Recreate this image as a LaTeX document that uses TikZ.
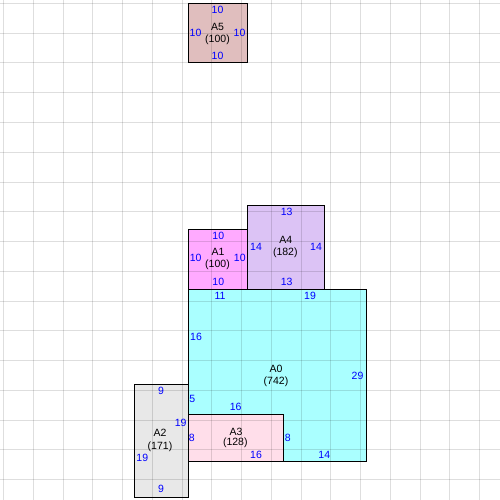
\documentclass[tikz,border=0pt]{standalone}
\usepackage{fontspec}
\setmainfont{Liberation Sans}
\begin{document}
\begin{tikzpicture}[x=1pt,y=-1pt,
  room/.style={draw=black,line width=1pt},
  gridline/.style={black,opacity=0.13,line width=1pt},
  len/.style={text=blue,inner sep=0pt,font=\fontsize{10.5}{12}\selectfont},
  nm/.style={text=black,inner sep=0pt,font=\fontsize{10.5}{12}\selectfont,align=center}]
\useasboundingbox (0,0) rectangle (500,500);
\fill[white] (0,0) rectangle (500,500);
% fills
\fill[fill={rgb,255:red,224;green,190;blue,190}] (188.3,3.3) rectangle (247.5,62.7);
\fill[fill={rgb,255:red,255;green,170;blue,255}] (188.3,229) rectangle (247.7,289.3);
\fill[fill={rgb,255:red,220;green,195;blue,245}] (247.7,205.3) rectangle (324.3,289.3);
\fill[fill={rgb,255:red,170;green,255;blue,255}] (188.3,289.3) -- (366.3,289.3) -- (366.3,461) -- (283.3,461) -- (283.3,414.3) -- (188.3,414.3) -- cycle;
\fill[fill={rgb,255:red,232;green,232;blue,232}] (134.3,384.3) rectangle (188.3,497);
\fill[fill={rgb,255:red,255;green,222;blue,234}] (188.3,414.3) rectangle (283.3,461);
% grid
\foreach \k in {0,...,16}{
  \draw[gridline] ({3.5+29.75*\k},0) -- ({3.5+29.75*\k},500);
  \draw[gridline] (0,{3.5+29.75*\k}) -- (500,{3.5+29.75*\k});
}
% borders
\draw[room] (188.3,3.3) rectangle (247.5,62.7);
\draw[room] (188.3,229) rectangle (247.7,289.3);
\draw[room] (247.7,205.3) rectangle (324.3,289.3);
\draw[room] (188.3,289.3) -- (366.3,289.3) -- (366.3,461) -- (283.3,461) -- (283.3,414.3) -- (188.3,414.3) -- cycle;
\draw[room] (134.3,384.3) rectangle (188.3,497);
\draw[room] (188.3,414.3) rectangle (283.3,461);
% A5
\node[nm] (a5n) at (217.5,27) {A5};
\node[nm] (a5a) at (217.5,39.5) {(100)};
\node[len] (a5t) at (217.5,10) {10};
\node[len] (a5l) at (195.5,33) {10};
\node[len] (a5r) at (239.5,33) {10};
\node[len] (a5b) at (217.5,56) {10};
% A1
\node[nm] (a1n) at (218,252.3) {A1};
\node[nm] (a1a) at (217.5,264.8) {(100)};
\node[len] (a1t) at (218.3,236.3) {10};
\node[len] (a1l) at (195.7,258.3) {10};
\node[len] (a1r) at (239.8,258.3) {10};
\node[len] (a1b) at (218.3,282.3) {10};
% A4
\node[nm] (a4n) at (285.7,240) {A4};
\node[nm] (a4a) at (285.3,252.5) {(182)};
\node[len] (a4t) at (286.7,212.3) {13};
\node[len] (a4l) at (256,247.3) {14};
\node[len] (a4r) at (316,247.3) {14};
\node[len] (a4b) at (286.7,282.3) {13};
% A0
\node[nm] (a0n) at (276,369) {A0};
\node[nm] (a0a) at (276,381.5) {(742)};
\node[len] (a0t1) at (220,295.7) {11};
\node[len] (a0t2) at (310,295.7) {19};
\node[len] (a0l1) at (196,337) {16};
\node[len] (a0l2) at (192.3,399.3) {5};
\node[len] (a0r) at (357.5,375.5) {29};
\node[len] (a0m) at (235.7,407.3) {16};
\node[len] (a0m2) at (287.7,438.3) {8};
\node[len] (a0b) at (324.3,455.3) {14};
% A3
\node[nm] (a3n) at (236,431.7) {A3};
\node[nm] (a3a) at (235.3,443) {(128)};
\node[len] (a3l) at (191.8,438.3) {8};
\node[len] (a3b) at (256,455.3) {16};
% A2
\node[nm] (a2n) at (160,432.7) {A2};
\node[nm] (a2a) at (160,446.8) {(171)};
\node[len] (a2t) at (161,391) {9};
\node[len] (a2r) at (180.7,422.7) {19};
\node[len] (a2l) at (142.3,458.3) {19};
\node[len] (a2b) at (161,489.3) {9};
\end{tikzpicture}
\end{document}
